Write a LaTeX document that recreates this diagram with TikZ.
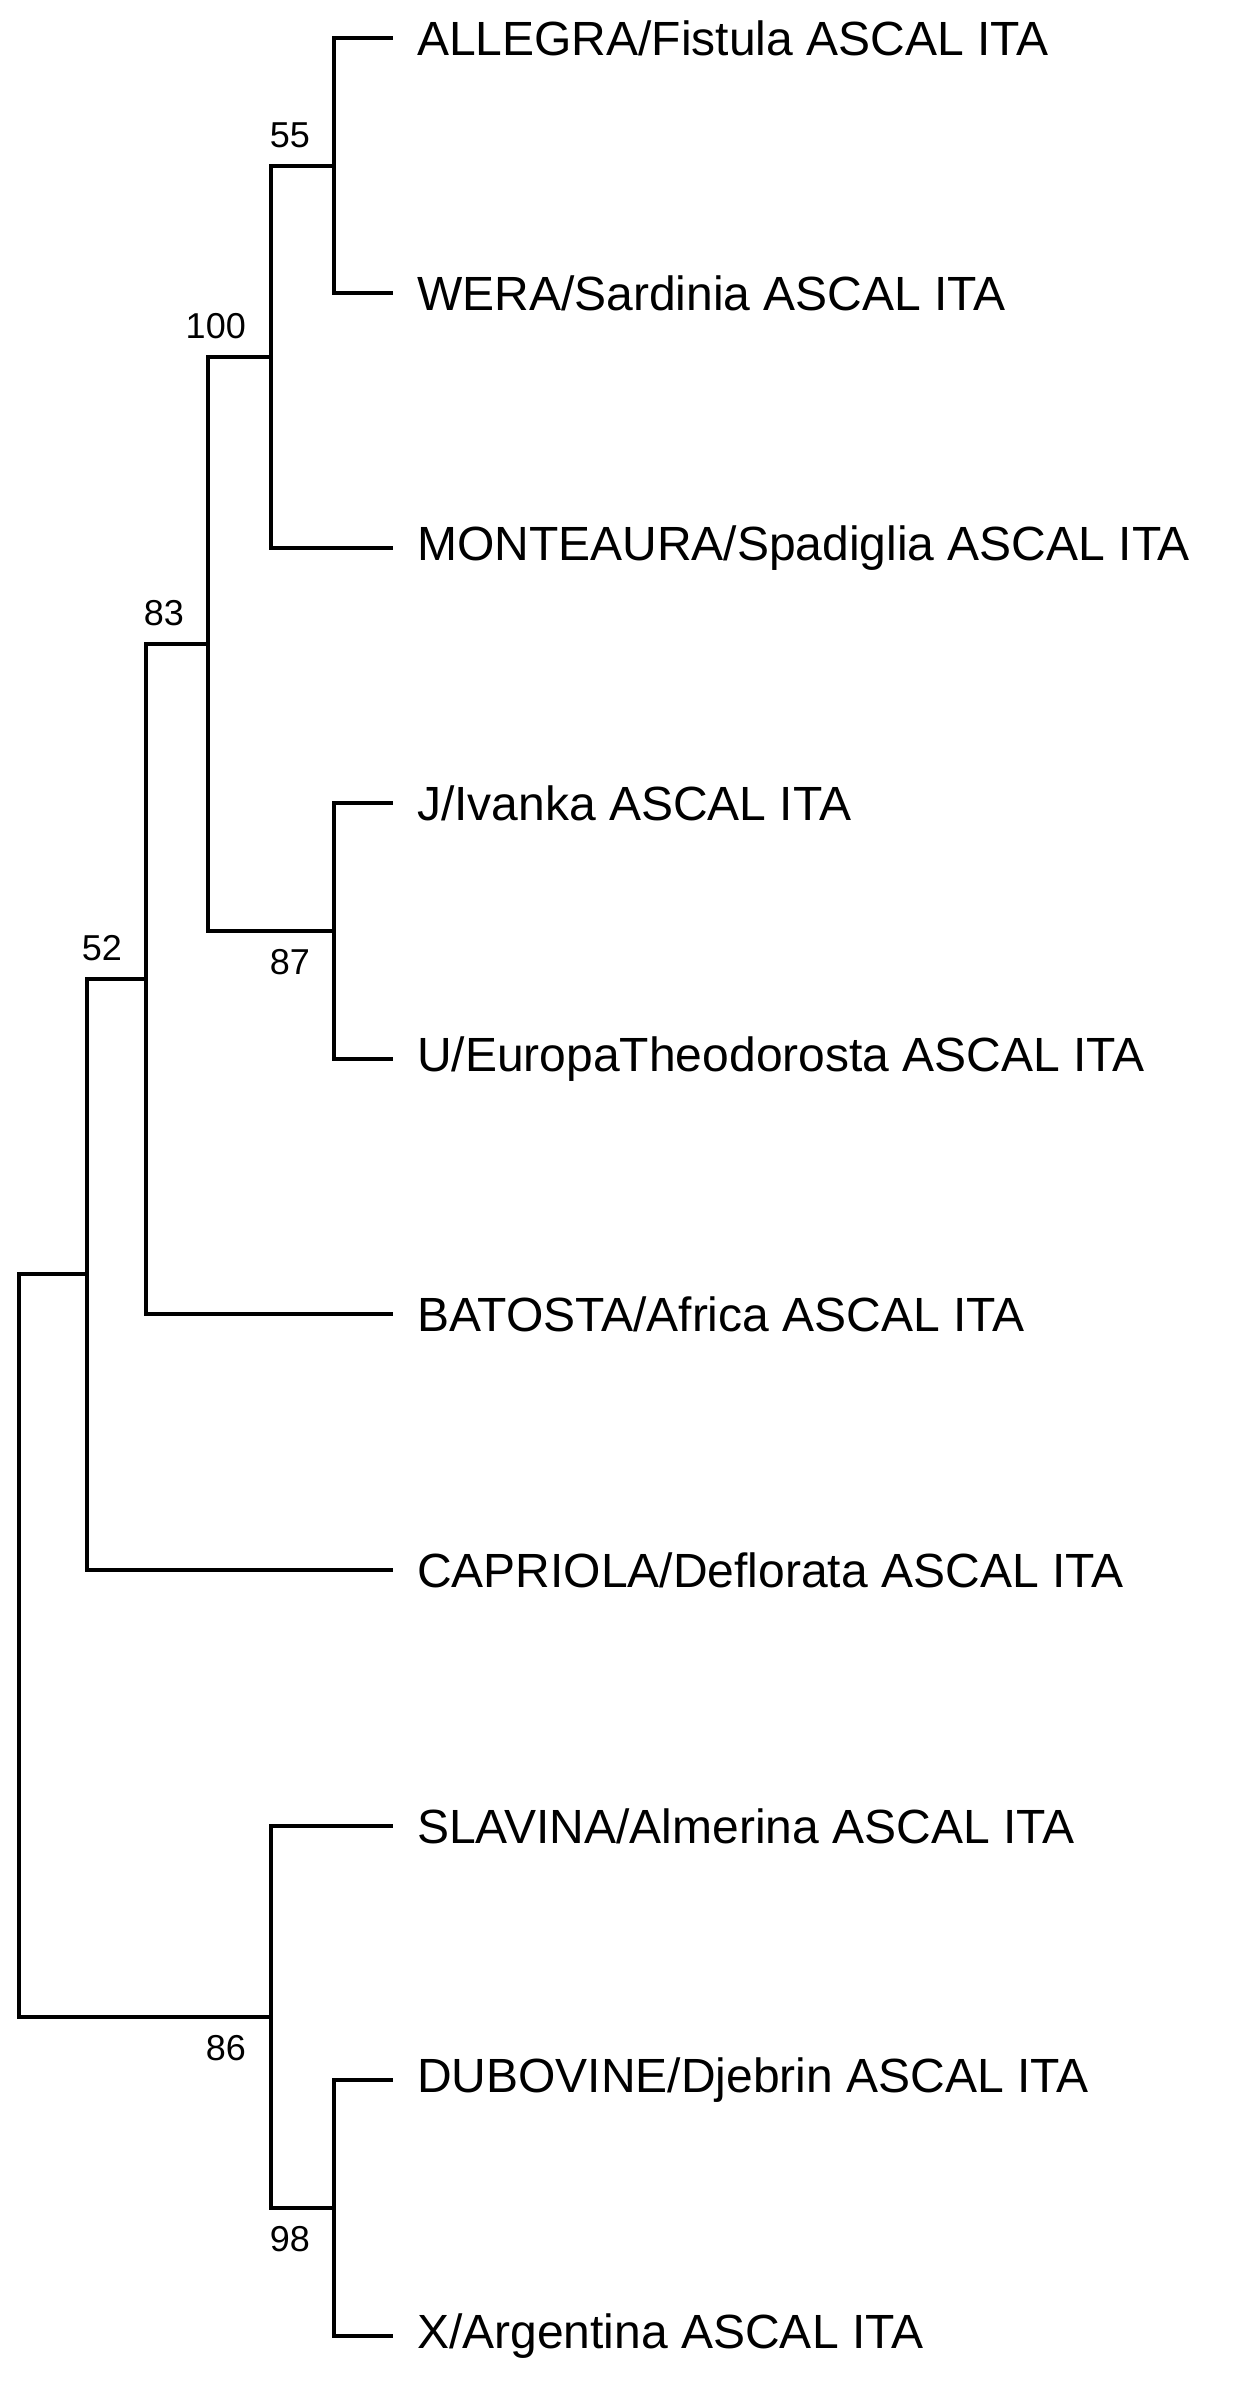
\documentclass[tikz,border=0pt]{standalone}
\usepackage{fontspec}
\setmainfont{Liberation Sans}
\begin{document}
\begin{tikzpicture}[x=1pt,y=-1pt,
  br/.style={line width=3.2pt,line cap=rect},
  leaf/.style={anchor=west,inner sep=0pt,font=\fontsize{48}{48}\selectfont},
  bs/.style={inner sep=0pt,font=\fontsize{36}{36}\selectfont},
  up/.style={bs,anchor=south east},
  dn/.style={bs,anchor=north east}]
\useasboundingbox (0,0) rectangle (1233,2386);
% leaf tips
\foreach \n/\y in {a/38,b/293,c/548,d/803,e/1059,f/1314,g/1570,h/1826,i/2080,j/2336}
  \coordinate (t\n) at (391,\y);
\node[leaf] (la) at (417,38) {ALLEGRA/Fistula ASCAL ITA};
\node[leaf] (lb) at (417,293) {WERA/Sardinia ASCAL ITA};
\node[leaf] (lc) at (417,548) {MONTEAURA/Spadiglia ASCAL ITA};
\node[leaf] (ld) at (417,803) {J/Ivanka ASCAL ITA};
\node[leaf] (le) at (417,1059) {U/EuropaTheodorosta ASCAL ITA};
\node[leaf] (lf) at (417,1314) {BATOSTA/Africa ASCAL ITA};
\node[leaf] (lg) at (417,1570) {CAPRIOLA/Deflorata ASCAL ITA};
\node[leaf] (lh) at (417,1826) {SLAVINA/Almerina ASCAL ITA};
\node[leaf] (li) at (417,2080) {DUBOVINE/Djebrin ASCAL ITA};
\node[leaf] (lj) at (417,2336) {X/Argentina ASCAL ITA};
% internal nodes
\coordinate (nAB) at (334,166);
\coordinate (nABC) at (271,357);
\coordinate (nDE) at (334,931);
\coordinate (nAE) at (208,644);
\coordinate (nAF) at (146,979);
\coordinate (nAG) at (87,1274);
\coordinate (nIJ) at (334,2208);
\coordinate (nHJ) at (271,2017);
\coordinate (root) at (19,1645);
% branches
\draw[br] (ta) -| (nAB) |- (tb);
\draw[br] (nAB) -| (nABC) |- (tc);
\draw[br] (td) -| (nDE) |- (te);
\draw[br] (nABC) -| (nAE) |- (nDE);
\draw[br] (nAE) -| (nAF) |- (tf);
\draw[br] (nAF) -| (nAG) |- (tg);
\draw[br] (ti) -| (nIJ) |- (tj);
\draw[br] (th) -| (nHJ) |- (nIJ);
\draw[br] (nAG) -| (root) |- (nHJ);
% support values
\node[up] (s55) at (310,148) {55};
\node[up] (s100) at (246,339) {100};
\node[up] (s83) at (184,626) {83};
\node[up] (s52) at (122,961) {52};
\node[dn] (s87) at (310,949) {87};
\node[dn] (s86) at (246,2035) {86};
\node[dn] (s98) at (310,2226) {98};
\end{tikzpicture}
\end{document}
